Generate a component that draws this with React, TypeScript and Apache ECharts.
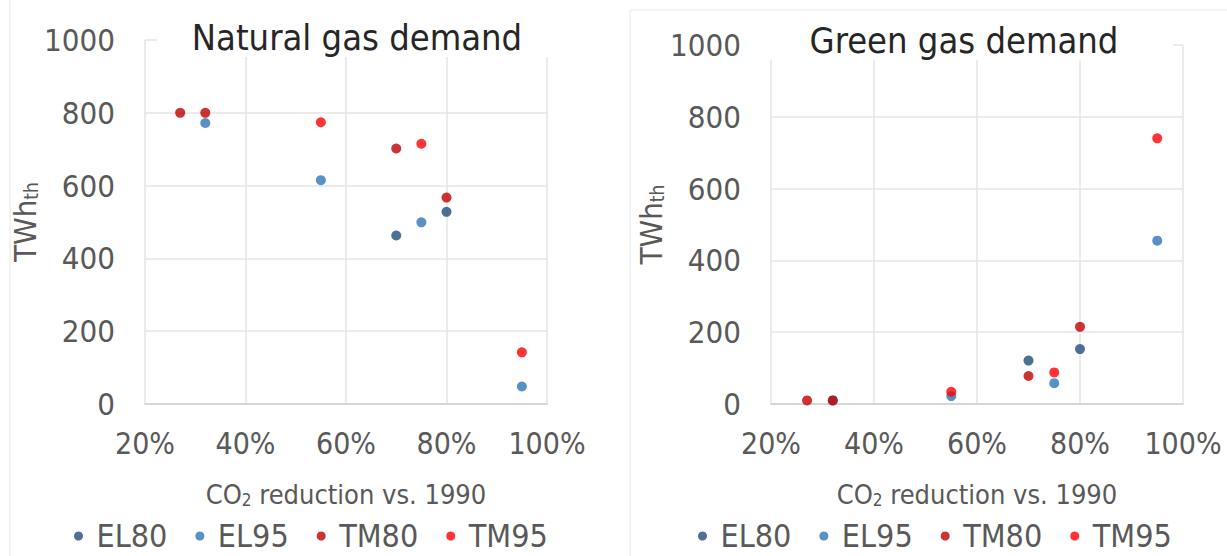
import React, { useEffect, useRef } from "react";
import * as echarts from "echarts";

// ---- Data ----
const seriesNames = ["EL80", "EL95", "TM80", "TM95"];
const xTicks = [20, 40, 60, 80, 100]; // CO2 reduction vs. 1990 (%)
const yTicks = [0, 200, 400, 600, 800, 1000]; // TWh_th

// Natural gas demand: [CO2 reduction %, TWh_th]
const naturalEL80 = [[70, 463], [80, 528]];
const naturalEL95 = [[32, 772], [55, 615], [75, 499], [95, 48]];
const naturalTM80 = [[27, 800], [32, 800], [70, 702], [80, 567]];
const naturalTM95 = [[55, 774], [75, 715], [95, 142]];

// Green gas demand: [CO2 reduction %, TWh_th]
const greenEL80 = [[70, 121], [80, 153]];
const greenEL95 = [[32, 10], [55, 22], [75, 58], [95, 455]];
const greenTM80 = [[27, 10], [32, 10], [70, 78], [80, 215]];
const greenTM95 = [[55, 34], [75, 88], [95, 740]];

const titles = ["Natural gas demand", "Green gas demand"];

const FONT = "'DejaVu Sans Condensed', 'DejaVu Sans', sans-serif";
const TEXT = "#595959";
const GRID = "#e4e4e4";
const COLORS = ["#1F4E79", "#2E75B6", "#C00000", "#FF0000"];

export default function App() {
  const ref = useRef<HTMLDivElement>(null);
  useEffect(() => {
    if (!ref.current) return;
    const chart = echarts.init(ref.current, undefined, { renderer: "svg" });
    const grids = [
      { left: 145, top: 40, width: 402, height: 364 },
      { left: 771, top: 45, width: 412, height: 359 },
    ];
    const mkX = (i: number) => ({
      type: "value",
      gridIndex: i,
      min: xTicks[0],
      max: xTicks[xTicks.length - 1],
      interval: xTicks[1] - xTicks[0],
      axisLine: { show: true, lineStyle: { color: "#d0d0d0", width: 1.5 } },
      axisTick: { show: false },
      axisLabel: {
        formatter: "{value}%",
        color: TEXT,
        fontFamily: FONT,
        fontSize: 30,
        margin: 24,
      },
      splitLine: { show: true, lineStyle: { color: GRID, width: 1.5 } },
      name: "CO{sub|2} reduction vs. 1990",
      nameLocation: "middle",
      nameGap: 76,
      nameTextStyle: {
        color: TEXT,
        fontFamily: FONT,
        fontSize: 27,
        rich: {
          sub: { fontSize: 17, color: TEXT, fontFamily: FONT, verticalAlign: "bottom", padding: [11, 0, 0, 0] },
        },
      },
    });
    const mkY = (i: number) => ({
      type: "value",
      gridIndex: i,
      min: yTicks[0],
      max: yTicks[yTicks.length - 1],
      interval: yTicks[1] - yTicks[0],
      axisLine: { show: false },
      axisTick: { show: false },
      axisLabel: {
        color: TEXT,
        fontFamily: FONT,
        fontSize: 31,
        margin: 30,
        formatter: (v: number) => String(v),
      },
      splitLine: { show: true, lineStyle: { color: GRID, width: 1.5 } },
      name: "TWh{sub|th}",
      nameLocation: "middle",
      nameGap: 88,
      nameRotate: 90,
      nameTextStyle: {
        color: TEXT,
        fontFamily: FONT,
        fontSize: 31,
        rich: {
          sub: { fontSize: 19, color: TEXT, fontFamily: FONT, verticalAlign: "bottom", padding: [12, 0, 0, 0] },
        },
      },
    });
    const datasets = [
      [naturalEL80, naturalEL95, naturalTM80, naturalTM95],
      [greenEL80, greenEL95, greenTM80, greenTM95],
    ];
    const series: any[] = [];
    datasets.forEach((set, g) => {
      set.forEach((d, k) => {
        series.push({
          type: "scatter",
          name: seriesNames[k],
          xAxisIndex: g,
          yAxisIndex: g,
          data: d,
          symbol: "circle",
          symbolSize: 10,
          itemStyle: { color: COLORS[k] },
        });
      });
    });
    const legendBase = {
      data: seriesNames,
      top: 514,
      icon: "circle",
      itemWidth: 26,
      itemHeight: 9,
      itemGap: 28,
      textStyle: { color: TEXT, fontFamily: FONT, fontSize: 32, lineHeight: 34 },
    };
    chart.setOption({
      animation: false,
      backgroundColor: "#ffffff",
      color: COLORS,
      title: [
        {
          text: titles[0],
          left: 357,
          top: 19,
          textAlign: "center",
          padding: 0,
          z: 20,
          textStyle: { color: "#262626", fontFamily: FONT, fontSize: 36, fontWeight: "normal" },
        },
        {
          text: titles[1],
          left: 964,
          top: 22,
          textAlign: "center",
          padding: 0,
          z: 20,
          textStyle: { color: "#262626", fontFamily: FONT, fontSize: 36, fontWeight: "normal" },
        },
      ],
      graphic: [
        { type: "rect", z: 10, shape: { x: 157, y: 16, width: 398, height: 41 }, style: { fill: "#ffffff" } },
        { type: "rect", z: 10, shape: { x: 768, y: 16, width: 405, height: 44 }, style: { fill: "#ffffff" } },
        { type: "line", z: 1, shape: { x1: 10, y1: 0, x2: 10, y2: 556 }, style: { stroke: "#f1f1f1", lineWidth: 1.5 } },
        { type: "line", z: 1, shape: { x1: 630, y1: 10, x2: 630, y2: 556 }, style: { stroke: "#f1f1f1", lineWidth: 1.5 } },
        { type: "line", z: 1, shape: { x1: 630, y1: 10, x2: 1227, y2: 10 }, style: { stroke: "#f1f1f1", lineWidth: 1.5 } },
      ],
      grid: grids,
      xAxis: [mkX(0), mkX(1)],
      yAxis: [mkY(0), mkY(1)],
      legend: [
        { ...legendBase, left: 69 },
        { ...legendBase, left: 693 },
      ],
      series,
    });
    return () => chart.dispose();
  }, []);
  return (
    <div
      ref={ref}
      style={{ position: "fixed", left: 0, top: 0, width: 1227, height: 556 }}
    />
  );
}
